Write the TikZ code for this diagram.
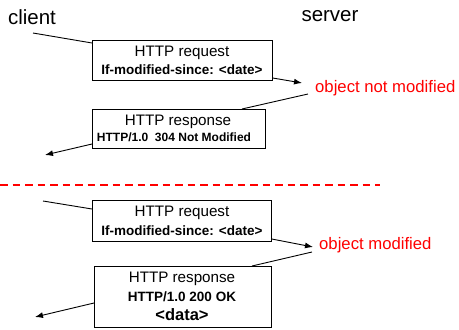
\documentclass[tikz,border=0pt]{standalone}
\usepackage{fontspec}
\setmainfont{Liberation Sans}
\usetikzlibrary{arrows.meta}
\definecolor{objred}{RGB}{255,0,0}
\begin{document}
\begin{tikzpicture}[x=1pt,y=-1pt,
  msgbox/.style={draw=black,line width=0.8pt,fill=white,inner sep=0pt,anchor=north west},
  conn/.style={line width=0.9pt},
  arr/.style={line width=0.9pt,-{Latex[length=8pt,width=6pt]}},
  lbl/.style={font=\fontsize{20.5}{24}\selectfont,inner sep=0pt},
  red/.style={text=objred,font=\fontsize{16.7}{20}\selectfont,inner sep=0pt,anchor=west}]
\useasboundingbox (0,0) rectangle (459,330);
\node[lbl] (client) at (32,17) {client};
\node[lbl] (server) at (330,16) {server};
% top exchange
\node[msgbox,minimum width=180pt,minimum height=40pt] (req1) at (92,40) {};
\node[font=\fontsize{15.2}{18}\selectfont,inner sep=0pt] (req1a) at (182,53) {HTTP request};
\node[font=\bfseries\fontsize{13.5}{16}\selectfont,inner sep=0pt] (req1b) at (182,70) {If-modified-since: <date>};
\coordinate (c1) at (33,33);
\coordinate (s1) at (302,83);
\draw[conn] (c1) -- (req1.north west |- 0,43) coordinate (r1in);
\draw[arr] (req1.east |- 0,78) -- (s1);
\node[red] (nm) at (315,88) {object not modified};
\node[msgbox,minimum width=173pt,minimum height=39pt] (resp1) at (92,109) {};
\node[font=\fontsize{15.2}{18}\selectfont,inner sep=0pt] (resp1a) at (178,122) {HTTP response};
\node[font=\bfseries\fontsize{12}{14}\selectfont,inner sep=0pt] (resp1b) at (174,137) {HTTP/1.0\ \ 304 Not Modified};
\coordinate (s1b) at (308,94);
\coordinate (c1b) at (45,155);
\draw[conn] (s1b) -- (242,109);
\draw[arr] (resp1.west |- 0,144) -- (c1b);
% divider
\draw[objred,line width=1.6pt,dash pattern=on 7.5pt off 5pt] (0,185) -- (380,185);
% bottom exchange
\node[msgbox,minimum width=179pt,minimum height=41pt] (req2) at (92,200) {};
\node[font=\fontsize{15.2}{18}\selectfont,inner sep=0pt] (req2a) at (182,213) {HTTP request};
\node[font=\bfseries\fontsize{13.5}{16}\selectfont,inner sep=0pt] (req2b) at (182,231) {If-modified-since: <date>};
\coordinate (c2) at (43,201);
\coordinate (s2) at (313,247);
\draw[conn] (c2) -- (req2.west |- 0,209);
\draw[arr] (req2.east |- 0,239) -- (s2);
\node[red] (m) at (319,245) {object modified};
\node[msgbox,minimum width=177pt,minimum height=61pt] (resp2) at (94,266) {};
\node[font=\fontsize{15.2}{18}\selectfont,inner sep=0pt] (resp2a) at (182,279) {HTTP response};
\node[font=\bfseries\fontsize{13.5}{16}\selectfont,inner sep=0pt] (resp2b) at (182,297) {HTTP/1.0 200 OK};
\node[font=\bfseries\fontsize{16.5}{20}\selectfont,inner sep=0pt] (resp2c) at (182,315) {<data>};
\coordinate (s2b) at (312,252);
\coordinate (c2b) at (35,317);
\draw[conn] (s2b) -- (252,266);
\draw[arr] (resp2.west |- 0,303) -- (c2b);
\end{tikzpicture}
\end{document}
